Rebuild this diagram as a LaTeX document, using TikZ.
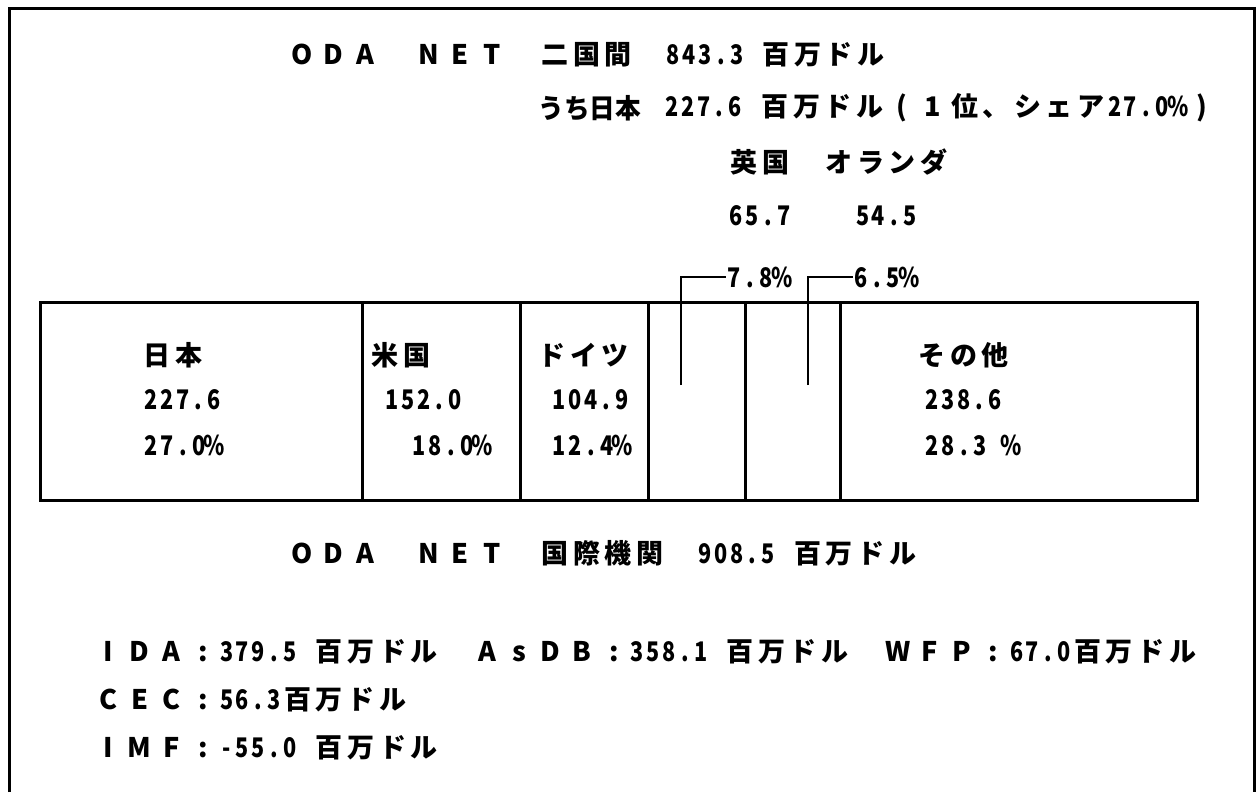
\documentclass[tikz,border=0pt]{standalone}
\usepackage{fontspec}
\newfontfamily\jp{Noto Sans CJK JP}
% fixed-pitch typesetting: full-width chars in 15.8pt cells, half-width in 7.9pt cells
\newcommand\gfw[1]{\hbox to 15.8pt{\hss#1\hss}}
\newcommand\ghw[1]{\hbox to 7.9pt{\hss\scalebox{0.8}[1]{#1}\hss}}
\def\grid#1{\gridloop#1\relax}
\def\gridloop#1{%
  \ifx\relax#1\else
    \gridone{#1}%
    \expandafter\gridloop
  \fi}
\def\gridone#1{%
  \ifx|#1\hbox to 7.9pt{}%
  \else
    \ifnum`#1>"FF00 \ifnum`#1<"FF5F \gfw{\char\numexpr`#1-"FEE0\relax}\else\gfw{#1}\fi
    \else
      \ifnum`#1>255 \gfw{#1}\else\ghw{#1}\fi
    \fi
  \fi}
\tikzset{
  txt/.style={anchor=west, inner sep=0pt, font=\jp\bfseries\fontsize{13.5}{16}\selectfont},
  frame/.style={line width=1.5pt},
  cell/.style={line width=1.5pt},
  leader/.style={line width=1.1pt}
}
\begin{document}
\begin{tikzpicture}[x=0.5pt,y=-0.5pt]
\useasboundingbox (0,0) rectangle (1256,792);
% outer frame (open at bottom)
\draw[frame] (9,792) -- (9,9) -- (1254,9) -- (1254,792);

% header
\node[txt] (t1) at (286,55) {\grid{ＯＤＡ　ＮＥＴ　二国間　843.3|百万ドル}};
\node[txt] (t2a) at (538,108) {\scalebox{0.95}[1]{うち日本}};
\node[txt] (t2b) at (664,108) {\grid{227.6|百万ドル（１位、シェア27.0\%）}};
\node[txt] (uk) at (728,162) {\grid{英国　オランダ}};
\node[txt] (v1) at (728,216) {\grid{65.7||||54.5}};
\node[txt] (p1) at (726,277) {\grid{7.8\%}};
\node[txt] (p2) at (853,277) {\grid{6.5\%}};

% table
\draw[cell] (40,302) rectangle (1197,500);
\foreach \xx in {362,520,648,745,840} \draw[cell] (\xx,302) -- (\xx,500);

\coordinate (l1) at (681,385);
\coordinate (l2) at (808,385);
\draw[leader] (l1) |- (p1.west);
\draw[leader] (l2) |- (p2.west);

\node[txt] (jp1) at (141,355) {\grid{日本}};
\node[txt] (jp2) at (143,400) {\grid{227.6}};
\node[txt] (jp3) at (143,445) {\grid{27.0\%}};
\node[txt] (us1) at (369,355) {\grid{米国}};
\node[txt] (us2) at (384,400) {\grid{152.0}};
\node[txt] (us3) at (411,445) {\grid{18.0\%}};
\node[txt] (de1) at (536,355) {\grid{ドイツ}};
\node[txt] (de2) at (551,400) {\grid{104.9}};
\node[txt] (de3) at (551,445) {\grid{12.4\%}};
\node[txt] (ot1) at (916,355) {\grid{その他}};
\node[txt] (ot2) at (924,400) {\grid{238.6}};
\node[txt] (ot3) at (924,445) {\grid{28.3|\%}};

% bottom
\node[txt] (b1) at (286,553) {\grid{ＯＤＡ　ＮＥＴ　国際機関　908.5|百万ドル}};
\node[txt] (b2) at (92,652) {\grid{ＩＤＡ：379.5|百万ドル　ＡｓＤＢ：358.1|百万ドル　ＷＦＰ：67.0百万ドル}};
\node[txt] (b3) at (92,700) {\grid{ＣＥＣ：56.3百万ドル}};
\node[txt] (b4) at (92,748) {\grid{ＩＭＦ：-55.0|百万ドル}};
\end{tikzpicture}
\end{document}
